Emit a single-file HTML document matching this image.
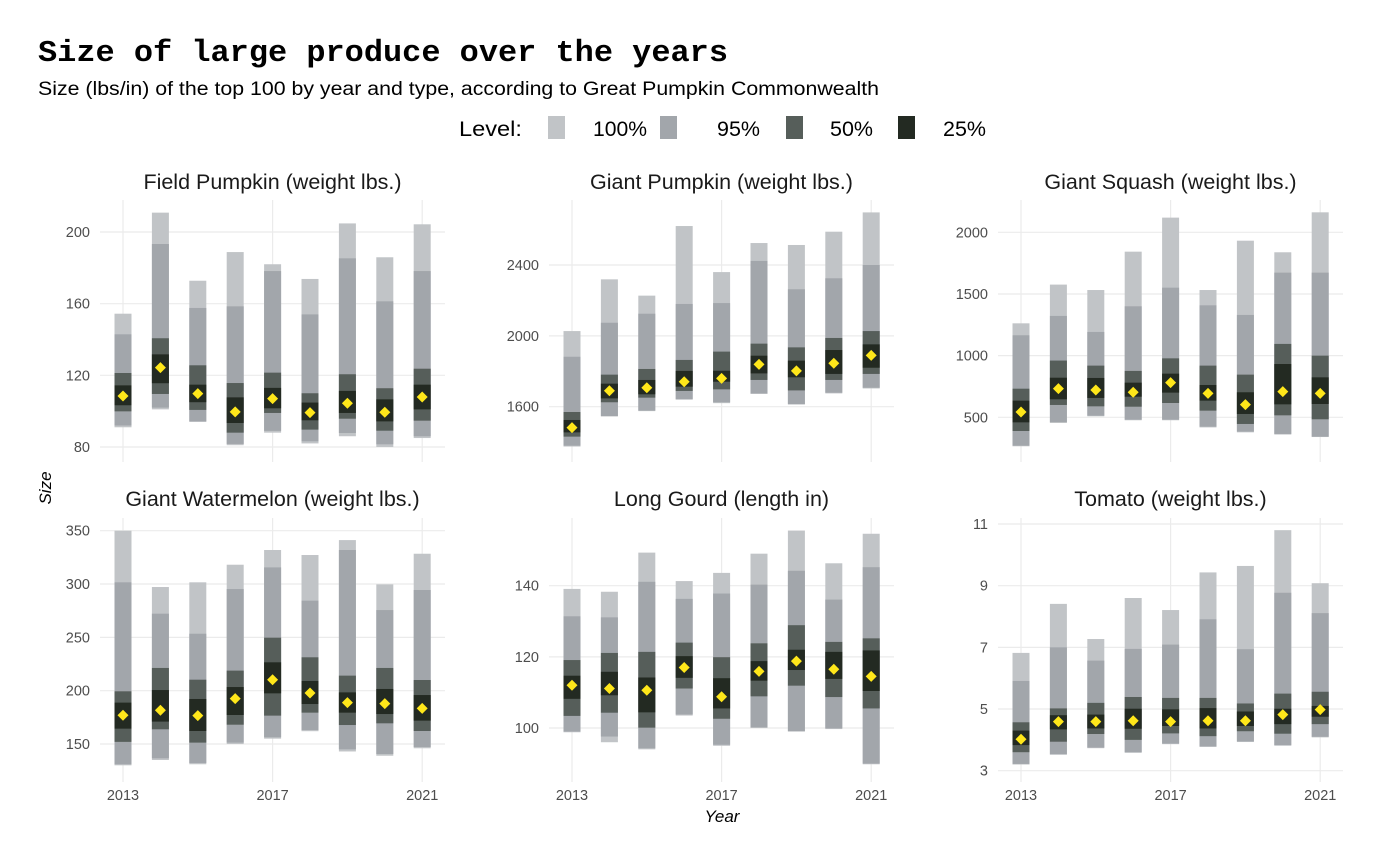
<!DOCTYPE html>
<html><head><meta charset="utf-8"><style>
body{margin:0;background:#fff;}
svg{display:block;font-family:"Liberation Sans",sans-serif;}
</style></head><body>
<svg id="chart" width="1400" height="865" viewBox="0 0 1400 865" xmlns="http://www.w3.org/2000/svg">
<rect width="1400" height="865" fill="#fff"/>
<text x="38" y="61" font-family="Liberation Mono, monospace" font-weight="bold" font-size="31" fill="#000" textLength="690" lengthAdjust="spacingAndGlyphs">Size of large produce over the years</text>
<text x="38" y="95" font-size="19" fill="#000" textLength="841" lengthAdjust="spacingAndGlyphs">Size (lbs/in) of the top 100 by year and type, according to Great Pumpkin Commonwealth</text>
<g font-size="21">
<text x="459" y="136" textLength="63" lengthAdjust="spacingAndGlyphs">Level:</text>
<rect x="548" y="116" width="17" height="23" fill="#c1c4c7"/>
<text x="593" y="136" textLength="54" lengthAdjust="spacingAndGlyphs">100%</text>
<rect x="660" y="116" width="17" height="23" fill="#a2a6ab"/>
<text x="717" y="136" textLength="43" lengthAdjust="spacingAndGlyphs">95%</text>
<rect x="786" y="116" width="17" height="23" fill="#565e5a"/>
<text x="830" y="136" textLength="43" lengthAdjust="spacingAndGlyphs">50%</text>
<rect x="898" y="116" width="17" height="23" fill="#232a22"/>
<text x="943" y="136" textLength="43" lengthAdjust="spacingAndGlyphs">25%</text>
</g>
<text transform="translate(51,488) rotate(-90)" text-anchor="middle" font-size="17" font-style="italic">Size</text>
<text x="722" y="822" text-anchor="middle" font-size="17" font-style="italic">Year</text>
<g id="panels"></g>
</svg>
<script>
const years = [2013,2014,2015,2016,2017,2018,2019,2020,2021];
const xTicks = [2013,2017,2021];
// Field Pumpkin
const field_lo100=[91,101,94,81,88,82,86,80,85];
const field_lo95=[92,102,94.3,81.7,89,83.2,87.8,81.5,86];
const field_lo50=[99.9,109.6,100.7,88,99,89.7,95.8,89.1,94.7];
const field_lo25=[103.3,115.6,105,93.4,101.6,94.9,99,94.3,101];
const field_hi25=[114.4,131.7,114.8,107.7,113,104.8,111.3,106.6,114.8];
const field_hi50=[121.3,140.7,125.6,115.7,121.5,110,120.6,112.8,123.7];
const field_hi95=[142.9,193.3,157.6,158.5,178.2,154,185.3,161.3,178.2];
const field_hi100=[154.4,210.8,172.8,188.8,182,173.8,204.8,185.9,204.3];
const field_mid=[108.5,124.3,109.8,99.6,107,99.2,104.4,99.4,107.9];
// Giant Pumpkin
const gp_lo100=[1375,1545,1575,1640,1620,1672,1612,1675,1703];
const gp_lo95=[1380,1547,1578,1642,1625,1675,1615,1679,1707];
const gp_lo50=[1431,1625,1651,1689,1698,1751,1692,1751,1785];
const gp_lo25=[1455,1647,1670,1713,1741,1788,1766,1785,1820];
const gp_hi25=[1525,1730,1751,1802,1803,1888,1860,1920,1952];
const gp_hi50=[1570,1781,1813,1864,1911,1956,1935,1988,2027];
const gp_hi95=[1882,2074,2125,2180,2185,2423,2263,2325,2400];
const gp_hi100=[2027,2319,2227,2620,2360,2524,2513,2588,2697];
const gp_mid=[1482,1690,1707,1741,1760,1839,1802,1845,1890];
// Giant Squash
const gs_lo100=[265,455,508,476,476,418,378,360,340];
const gs_lo95=[270,459,513,481,481,424,384,365,343];
const gs_lo50=[389,600,589,586,616,554,446,516,484];
const gs_lo25=[459,646,657,667,700,635,527,605,608];
const gs_hi25=[635,821,819,781,854,762,703,932,824];
const gs_hi50=[732,960,919,876,978,919,846,1095,1000];
const gs_hi95=[1165,1322,1192,1400,1551,1408,1330,1673,1673];
const gs_hi100=[1262,1576,1532,1843,2119,1532,1932,1838,2162];
const gs_mid=[543,732,721,703,781,694,603,708,694];
// Giant Watermelon
const wm_lo100=[130,135,131,150,155,162,143,139,146];
const wm_lo95=[131,136.6,132.2,151.3,156.3,163.1,145,140.6,147.2];
const wm_lo50=[152,163.8,151.3,168.1,176.6,179.4,167.8,169.4,162.2];
const wm_lo25=[164.4,171,162.2,177.2,197.5,187.5,179.4,178.1,171.9];
const wm_hi25=[188.8,200.6,192.2,203.4,226.6,209.1,198.4,201.6,195.9];
const wm_hi50=[199.4,221.3,210.3,218.8,249.7,231.3,214.1,221.3,210];
const wm_hi95=[301.6,272.2,253.4,295.3,315.6,284.4,331.9,275.6,294.4];
const wm_hi100=[350,297.2,301.6,318.1,331.9,327.2,341.2,299.7,328.4];
const wm_mid=[176.9,181.6,176.6,192.5,210.3,197.8,188.8,187.8,183.4];
// Long Gourd
const lg_lo100=[98.8,96,94,103.5,95,100,99,99.7,89.8];
const lg_lo95=[99,97.6,94.3,103.8,95.3,100.2,99.1,99.9,90];
const lg_lo50=[103.4,104.3,100.1,111.1,102.6,108.9,111.9,108.7,105.5];
const lg_lo25=[108.2,109.2,104.4,114.1,105.5,113.3,116.3,113.8,110.4];
const lg_hi25=[114.7,115.8,114.2,120.2,114,118.8,122,121.4,121.8];
const lg_hi50=[119.1,121.1,121.4,124,119.9,123.8,128.9,124.2,125.2];
const lg_hi95=[131.4,131.1,141.1,136.3,137.8,140.3,144.2,136.1,145.2];
const lg_hi100=[139.1,138.3,149.3,141.3,143.6,149,155.5,146.3,154.6];
const lg_mid=[112,111.1,110.6,117,108.8,115.9,118.8,116.5,114.5];
// Tomato
const tm_lo100=[3.2,3.52,3.73,3.58,3.86,3.77,3.93,3.81,4.08];
const tm_lo95=[3.22,3.53,3.75,3.6,3.88,3.79,3.95,3.83,4.1];
const tm_lo50=[3.6,3.94,4.19,4.0,4.21,4.12,4.28,4.2,4.51];
const tm_lo25=[3.83,4.34,4.37,4.36,4.45,4.37,4.45,4.51,4.75];
const tm_hi25=[4.3,4.8,4.82,5.01,4.99,5.03,4.92,5.01,5.1];
const tm_hi50=[4.57,5.02,5.2,5.39,5.36,5.36,5.18,5.5,5.56];
const tm_hi95=[5.91,7.0,6.57,6.95,7.09,7.91,6.94,8.77,8.11];
const tm_hi100=[6.82,8.41,7.27,8.6,8.21,9.43,9.64,10.8,9.08];
const tm_mid=[4.02,4.59,4.59,4.62,4.59,4.62,4.62,4.82,4.98];

const ticks_field=[80,120,160,200];
const ticks_gp=[1600,2000,2400];
const ticks_gs=[500,1000,1500,2000];
const ticks_wm=[150,200,250,300,350];
const ticks_lg=[100,120,140];
const ticks_tm=[3,5,7,9,11];

const NS="http://www.w3.org/2000/svg";
function mk(tag,attrs,parent){const e=document.createElementNS(NS,tag);for(const k in attrs)e.setAttribute(k,attrs[k]);parent.appendChild(e);return e;}

const panels=[
 {id:'field-pumpkin',title:'Field Pumpkin (weight lbs.)',col:0,row:0,v0:200,p0:232,v1:80,p1:447,ticks:ticks_field,d:[field_lo100,field_lo95,field_lo50,field_lo25,field_hi25,field_hi50,field_hi95,field_hi100,field_mid]},
 {id:'giant-pumpkin',title:'Giant Pumpkin (weight lbs.)',col:1,row:0,v0:2400,p0:265,v1:1600,p1:406.7,ticks:ticks_gp,d:[gp_lo100,gp_lo95,gp_lo50,gp_lo25,gp_hi25,gp_hi50,gp_hi95,gp_hi100,gp_mid]},
 {id:'giant-squash',title:'Giant Squash (weight lbs.)',col:2,row:0,v0:2000,p0:232.3,v1:500,p1:417.3,ticks:ticks_gs,d:[gs_lo100,gs_lo95,gs_lo50,gs_lo25,gs_hi25,gs_hi50,gs_hi95,gs_hi100,gs_mid]},
 {id:'giant-watermelon',title:'Giant Watermelon (weight lbs.)',col:0,row:1,v0:350,p0:530.7,v1:150,p1:744,ticks:ticks_wm,d:[wm_lo100,wm_lo95,wm_lo50,wm_lo25,wm_hi25,wm_hi50,wm_hi95,wm_hi100,wm_mid]},
 {id:'long-gourd',title:'Long Gourd (length in)',col:1,row:1,v0:140,p0:585.7,v1:100,p1:728,ticks:ticks_lg,d:[lg_lo100,lg_lo95,lg_lo50,lg_lo25,lg_hi25,lg_hi50,lg_hi95,lg_hi100,lg_mid]},
 {id:'tomato',title:'Tomato (weight lbs.)',col:2,row:1,v0:11,p0:524,v1:3,p1:770.7,ticks:ticks_tm,d:[tm_lo100,tm_lo95,tm_lo50,tm_lo25,tm_hi25,tm_hi50,tm_hi95,tm_hi100,tm_mid]}
];
const colors=['#c1c4c7','#a2a6ab','#565e5a','#232a22'];
const levels=['100','95','50','25'];
const root=document.getElementById('panels');
panels.forEach(p=>{
 const g=mk('g',{},root);
 
 
 const left=100+p.col*449, right=left+345;
 const top=p.row?518:200, bottom=p.row?782:462;
 const x=yr=>123+p.col*449+(yr-2013)*37.4;
 const y=v=>p.p0+(v-p.v0)*(p.p1-p.p0)/(p.v1-p.v0);
 const t=mk('text',{x:(left+right)/2,y:p.row?506:189,'text-anchor':'middle','font-size':'21.5',fill:'#1a1a1a'},g);
 t.textContent=p.title;
 
 
 p.ticks.forEach(v=>{
  const l=mk('line',{x1:left,x2:right,y1:y(v),y2:y(v),stroke:'#ebebeb','stroke-width':'1.2'},g);
  
  
  const tt=mk('text',{x:left-10,y:y(v)+5,'text-anchor':'end','font-size':'14.5',fill:'#4d4d4d'},g);
  tt.textContent=String(v);
  
  
 });
 xTicks.forEach(yr=>{
  const l=mk('line',{x1:x(yr),x2:x(yr),y1:top,y2:bottom,stroke:'#ebebeb','stroke-width':'1.2'},g);
  
  
  if(p.row===1){
   const tt=mk('text',{x:x(yr),y:800,'text-anchor':'middle','font-size':'14.5',fill:'#4d4d4d'},g);
   tt.textContent=String(yr);
   
   
  }
 });
 years.forEach((yr,i)=>{
  const cx=x(yr), w=17;
  for(let k=0;k<4;k++){
   const lo=p.d[k][i], hi=p.d[7-k][i];
   const r=mk('rect',{x:cx-w/2,y:y(hi),width:w,height:Math.max(0,y(lo)-y(hi)),fill:colors[k]},g);
   
   
  }
  const my=y(p.d[8][i]), s=5.5;
  const dm=mk('polygon',{points:`${cx},${my-s} ${cx+s},${my} ${cx},${my+s} ${cx-s},${my}`,fill:'#ffe71a'},g);
  
  
 });
});
</script>
</body></html>
